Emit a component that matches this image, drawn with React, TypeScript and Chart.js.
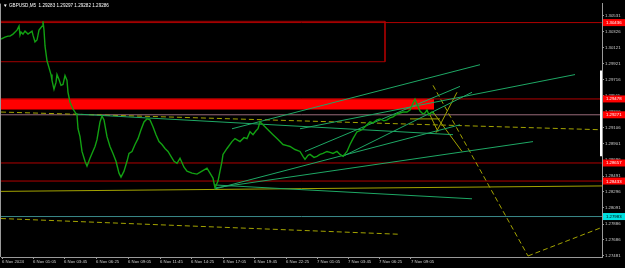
import React, { useEffect, useRef } from 'react';
import { Chart, registerables } from 'chart.js';
Chart.register(...registerables);

// ---- data ----
const titleText = 'GBPUSD,M5  1.29283 1.29297 1.29282 1.29286';

const xTickPos = [2, 33, 64, 96, 128, 160, 191, 223, 254, 286, 317, 348, 379, 411];
const xTickLabels = ['6 Nov 2024', '6 Nov 01:05', '6 Nov 03:45', '6 Nov 06:25', '6 Nov 09:05', '6 Nov 11:45', '6 Nov 14:25', '6 Nov 17:05', '6 Nov 19:45', '6 Nov 22:25', '7 Nov 01:05', '7 Nov 03:45', '7 Nov 06:25', '7 Nov 09:05'];

const yTickValues = [1.30531, 1.30326, 1.30121, 1.29921, 1.29716, 1.29511, 1.29306, 1.29106, 1.28901, 1.28696, 1.28491, 1.28296, 1.28091, 1.27886, 1.27686, 1.27481];
const yMin = 1.27468;
const yMax = 1.30681;

const priceBars = [1,5,8,10,13,17,19,20,21,23,25,28,32,33,35,37,39,42,43,44,45,47,49,51,52,54,56,57,59,61,63,65,67,68,70,73,75,77,78,80,82,85,87,90,92,95,97,100,102,104,107,110,113,116,119,121,124,127,129,132,135,138,141,144,147,150,153,156,159,162,165,168,171,174,177,180,184,187,192,197,202,207,210,213,215,218,220,222,223,227,232,235,240,244,247,250,253,256,258,260,263,267,270,273,277,280,283,287,290,295,300,303,305,308,310,314,317,320,323,327,330,333,337,340,343,347,350,353,357,360,362,365,367,370,373,377,380,384,387,390,393,397,400,403,407,410,413,415,417,420,423,425,427,429,432,434];
const priceClose = [1.30231,1.30256,1.30269,1.30269,1.30294,1.30344,1.30394,1.30281,1.30319,1.30294,1.30331,1.30294,1.30331,1.30281,1.30194,1.30219,1.30344,1.30394,1.30456,1.30344,1.30144,1.29956,1.29869,1.29781,1.29706,1.29594,1.29681,1.29781,1.29719,1.29644,1.29656,1.29769,1.29706,1.29556,1.29431,1.29344,1.29306,1.29269,1.29094,1.28994,1.28806,1.28681,1.28619,1.28719,1.28781,1.28869,1.28956,1.29181,1.29256,1.29206,1.28994,1.28869,1.28781,1.28681,1.28531,1.28481,1.28556,1.28681,1.28781,1.28806,1.28894,1.28969,1.29081,1.29181,1.29219,1.29206,1.29119,1.29019,1.28931,1.28894,1.28844,1.28806,1.28744,1.28681,1.28656,1.28719,1.28606,1.28556,1.28531,1.28519,1.28556,1.28594,1.28531,1.28469,1.28344,1.28431,1.28556,1.28681,1.28769,1.28844,1.28931,1.28969,1.28931,1.28981,1.28969,1.29056,1.29019,1.29069,1.29094,1.29181,1.29144,1.29094,1.29056,1.29019,1.28969,1.28931,1.28894,1.28881,1.28869,1.28831,1.28806,1.28744,1.28706,1.28756,1.28769,1.28731,1.28744,1.28769,1.28781,1.28806,1.28794,1.28781,1.28806,1.28769,1.28744,1.28806,1.28894,1.28969,1.29056,1.29069,1.29081,1.29119,1.29144,1.29181,1.29169,1.29206,1.29219,1.29194,1.29206,1.29231,1.29244,1.29281,1.29294,1.29306,1.29306,1.29331,1.29419,1.29469,1.29406,1.29319,1.29281,1.29294,1.29331,1.29269,1.29306,1.29281];

// horizontal levels with axis labels
const levelValues = [1.30440, 1.29472, 1.29271, 1.28660, 1.28431, 1.27981];
const levelLabels = ['1.30436', '1.29478', '1.29271', '1.28657', '1.28433', '1.27983'];
const levelLineColors = ['#b00000', '#b00000', '#9a6a7a', '#b00000', '#b00000', '#3a8a8a'];
const levelBoxColors = ['#ff0000', '#ff0000', '#ff0000', '#ff0000', '#ff0000', '#00e0e0'];
const levelTextColors = ['#ffffff', '#ffffff', '#ffffff', '#ffffff', '#ffffff', '#000000'];

// rectangle zone [x1, x2, topPrice, bottomPrice]
const zoneRect = [1, 385, 1.30456, 1.29944];
// filled band [x1, x2, topPrice, bottomPrice]
const redBand = [1, 434, 1.29469, 1.29344];
// day range marker [x, high, low]
const rangeBar = [601, 1.29831, 1.28744];

// trend lines [x1, p1, x2, p2]
const greenLines = [
  [232, 1.29094, 480, 1.29906],
  [300, 1.29094, 575, 1.29781],
  [305, 1.28806, 460, 1.29631],
  [343, 1.28744, 472, 1.29556],
  [215, 1.28331, 460, 1.29144],
  [215, 1.28344, 533, 1.28931],
  [75, 1.29281, 453, 1.29019],
  [215, 1.28381, 472, 1.28206],
];
const yellowSolidLines = [
  [1, 1.28300, 602, 1.28369],
  [457, 1.29556, 436, 1.29044],
  [433, 1.29306, 462, 1.28806],
  [410, 1.29219, 440, 1.29219],
  [430, 1.29269, 438, 1.29056],
];
const yellowDashedLines = [
  [1, 1.29306, 602, 1.29081],
  [1, 1.27956, 400, 1.27756],
  [433, 1.29644, 528, 1.27481],
  [528, 1.27481, 602, 1.27844],
];

const FONT = '"Liberation Sans", Arial, sans-serif';

function seg(l: number[], color: string, width: number, dash: number[] = [], order = 5) {
  return {
    data: [{ x: l[0], y: l[1] }, { x: l[2], y: l[3] }],
    showLine: true, borderColor: color, borderWidth: width, borderDash: dash,
    pointRadius: 0, fill: false, order,
  };
}

const mtPlugin = {
  id: 'mtPlugin',
  beforeDraw(chart: any) {
    const ctx = chart.ctx;
    ctx.save();
    ctx.fillStyle = '#000000';
    ctx.fillRect(0, 0, chart.width, chart.height);
    ctx.restore();
  },
  afterDraw(chart: any) {
    const { ctx, chartArea, scales } = chart;
    const ys = scales.y;
    ctx.save();
    ctx.strokeStyle = '#9a9a9a';
    ctx.lineWidth = 1;
    ctx.beginPath();
    ctx.moveTo(chartArea.left - 0.5, chartArea.top);
    ctx.lineTo(chartArea.left - 0.5, chartArea.bottom);
    ctx.stroke();
    ctx.font = `4.3px ${FONT}`;
    ctx.textBaseline = 'middle';
    ctx.textAlign = 'left';
    levelValues.forEach((v, i) => {
      const py = ys.getPixelForValue(v);
      ctx.fillStyle = levelBoxColors[i];
      ctx.fillRect(chartArea.right + 1, py - 3.5, 22, 7);
      ctx.fillStyle = levelTextColors[i];
      ctx.fillText(levelLabels[i], chartArea.right + 4, py + 0.3);
    });
    ctx.fillStyle = '#ffffff';
    ctx.font = `4.6px ${FONT}`;
    ctx.fillText('▼', 3, 6);
    ctx.fillText(titleText, 9, 6);
    ctx.restore();
  },
};

export default function App() {
  const ref = useRef<HTMLCanvasElement>(null);
  useEffect(() => {
    document.body.style.margin = '0';
    document.body.style.background = '#000';
    const datasets: any[] = [];
    datasets.push({
      data: priceBars.map((x, i) => ({ x, y: priceClose[i] })),
      showLine: true, borderColor: '#12a012', borderWidth: 1.4, pointRadius: 0, fill: false, order: 0,
    });
    greenLines.forEach((l) => datasets.push(seg(l, '#1ea865', 1, [], 3)));
    yellowSolidLines.forEach((l) => datasets.push(seg(l, '#a3a300', 1, [], 3)));
    yellowDashedLines.forEach((l) => datasets.push(seg(l, '#a3a300', 1, [5, 3], 3)));
    levelValues.forEach((v, i) => datasets.push(seg([1, v, 602, v], levelLineColors[i], 1, [], 6)));
    datasets.push({
      data: [
        { x: zoneRect[0], y: zoneRect[2] }, { x: zoneRect[1], y: zoneRect[2] },
        { x: zoneRect[1], y: zoneRect[3] }, { x: zoneRect[0], y: zoneRect[3] },
      ],
      showLine: true, borderColor: '#a00000', borderWidth: 1, pointRadius: 0, fill: false, order: 7,
    });
    datasets.push({
      data: [{ x: redBand[0], y: redBand[2] }, { x: redBand[1], y: redBand[2] }],
      showLine: true, borderColor: '#ff0000', borderWidth: 1, pointRadius: 0,
      fill: '+1', backgroundColor: '#ff0000', order: 8,
    });
    datasets.push({
      data: [{ x: redBand[0], y: redBand[3] }, { x: redBand[1], y: redBand[3] }],
      showLine: true, borderColor: '#ff0000', borderWidth: 1, pointRadius: 0, fill: false, order: 8,
    });
    datasets.push({
      data: [{ x: rangeBar[0], y: rangeBar[1] }, { x: rangeBar[0], y: rangeBar[2] }],
      showLine: true, borderColor: '#ffffff', borderWidth: 2, pointRadius: 0, fill: false, clip: false, order: 1,
    });

    const chart = new Chart(ref.current as HTMLCanvasElement, {
      type: 'scatter',
      data: { datasets },
      options: {
        animation: false,
        responsive: false,
        devicePixelRatio: 1,
        layout: { padding: { left: 1, top: 0, right: 0, bottom: 0 } },
        plugins: { legend: { display: false }, tooltip: { enabled: false } },
        scales: {
          x: {
            type: 'linear', min: 1, max: 602,
            afterBuildTicks: (s: any) => { s.ticks = xTickPos.map((v) => ({ value: v })); },
            afterFit: (s: any) => { s.height = 11; },
            grid: { drawOnChartArea: false, drawTicks: true, tickLength: 2, color: '#9a9a9a' },
            border: { color: '#9a9a9a', width: 1 },
            ticks: {
              align: 'start', maxRotation: 0, autoSkip: false, padding: 0,
              color: '#d0d0d0', font: { size: 4.3, family: FONT },
              callback: (_v: any, i: number) => xTickLabels[i],
            },
          },
          y: {
            type: 'linear', position: 'right', min: yMin, max: yMax,
            afterBuildTicks: (s: any) => { s.ticks = yTickValues.map((v) => ({ value: v })); },
            afterFit: (s: any) => { s.width = 23; },
            grid: { drawOnChartArea: false, drawTicks: true, tickLength: 2, color: '#9a9a9a' },
            border: { color: '#9a9a9a', width: 1 },
            ticks: {
              autoSkip: false, padding: 1, color: '#d0d0d0', font: { size: 4.3, family: FONT },
              callback: (v: any) => Number(v).toFixed(5),
            },
          },
        },
      },
      plugins: [mtPlugin],
    } as any);
    return () => chart.destroy();
  }, []);
  return (
    <div style={{ width: 625, height: 268, background: '#000' }}>
      <canvas ref={ref} width={625} height={268} style={{ display: 'block', width: 625, height: 268 }} />
    </div>
  );
}
